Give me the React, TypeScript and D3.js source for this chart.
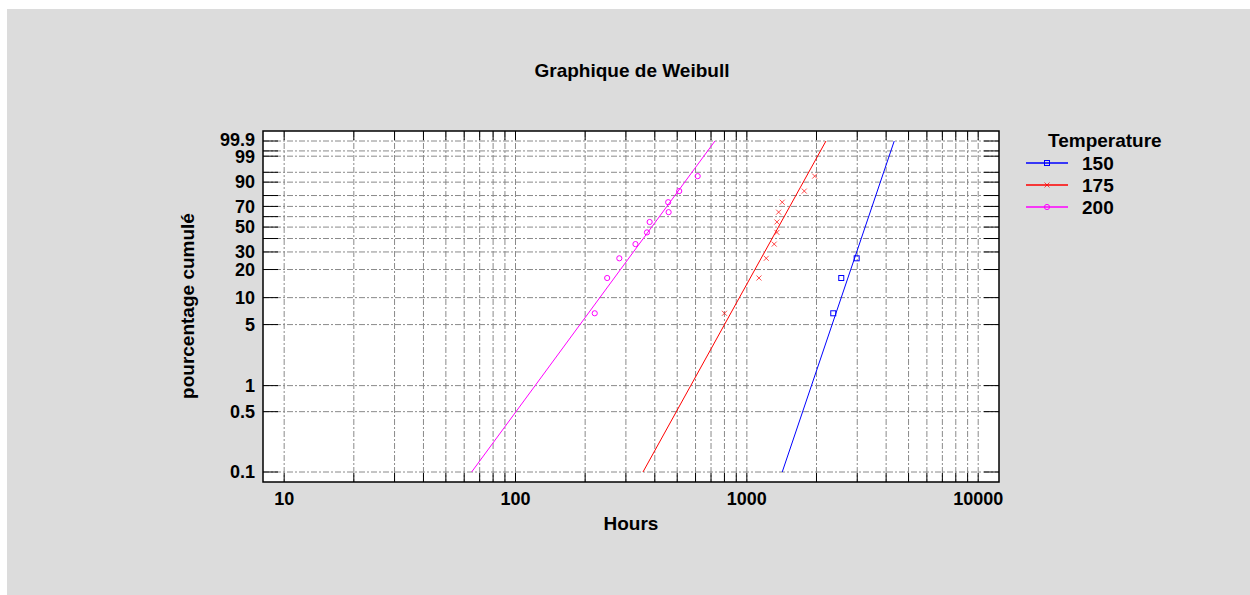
import React from 'react';
import * as d3 from 'd3';

// tick labels
const xTickLabels = [10, 100, 1000, 10000];
const yTickLabels = [0.1, 0.5, 1, 5, 10, 20, 30, 50, 70, 90, 99, 99.9];
const yGridLines = [0.1, 0.5, 1, 5, 10, 20, 30, 40, 50, 60, 70, 80, 90, 95, 99, 99.5, 99.9];

// series
const temperatures = ['150', '175', '200'];
const colors = ['#0000ff', '#ff0000', '#ff00ff'];
const hours150 = [2363, 2559, 2983];
const hours175 = [800, 1128, 1213, 1313, 1349, 1349, 1372, 1422, 1771, 1964];
const hours200 = [220, 249, 281, 330, 370, 380, 459, 457, 510, 613];
const cumulPct = [6.7, 16.3, 26.0, 35.6, 45.2, 54.8, 64.4, 74.0, 83.7, 93.3];

// fitted lines, hours read at 0.1 % and 99.9 %
const fitLow = [1422, 355.6, 64.6];
const fitHigh = [4336, 2198, 728];

const W = 1250;
const H = 595;
const plot = { left: 263, right: 999, top: 131, bottom: 482 };
const font = '"Liberation Sans", Arial, sans-serif';

// weibull probability transform
const weib = (p: number) => Math.log(-Math.log(1 - p / 100));

const x = d3.scaleLog().domain([8.1, 12300]).range([plot.left, plot.right]);
const yw = d3.scaleLinear().domain([weib(0.1), weib(99.9)]).range([472, 141]);
const y = (p: number) => yw(weib(p));

const gridX = x.ticks().filter(t => t >= 10 && t <= 10000);

const Marker = ({ kind, cx, cy, color }: { kind: number; cx: number; cy: number; color: string }) => {
  if (kind === 0)
    return <rect x={cx - 2.5} y={cy - 2.5} width={5} height={5} fill="none" stroke={color} strokeWidth={1} />;
  if (kind === 1)
    return (
      <path
        d={`M${cx - 2.5},${cy - 2.5}L${cx + 2.5},${cy + 2.5}M${cx - 2.5},${cy + 2.5}L${cx + 2.5},${cy - 2.5}`}
        stroke={color}
        strokeOpacity={0.7}
        strokeWidth={1}
      />
    );
  return <circle cx={cx} cy={cy} r={2.6} fill="none" stroke={color} strokeWidth={1} />;
};

export default function App() {
  const series = [hours150, hours175, hours200];
  const line = d3.line<[number, number]>().x(d => x(d[0])).y(d => y(d[1]));

  return (
    <svg width={W} height={H} style={{ position: 'absolute', left: 0, top: 0, fontFamily: font }}>
      <rect x={0} y={0} width={W} height={H} fill="#fff" />
      <rect x={7} y={9} width={W - 7} height={H - 9} fill="#dcdcdc" />

      <text x={632} y={77} textAnchor="middle" fontWeight="bold" fontSize={19}>
        Graphique de Weibull
      </text>

      <rect x={plot.left} y={plot.top} width={plot.right - plot.left} height={plot.bottom - plot.top} fill="#fff" />

      {/* grid */}
      {gridX.map(t => (
        <line key={'gx' + t} x1={x(t)} x2={x(t)} y1={plot.top} y2={plot.bottom}
          stroke="#8a8a8a" strokeDasharray="6,2,2,2" strokeWidth={1} />
      ))}
      {yGridLines.map(p => (
        <line key={'gy' + p} x1={plot.left} x2={plot.right} y1={y(p)} y2={y(p)}
          stroke="#8a8a8a" strokeDasharray="6,2,2,2" strokeWidth={1} />
      ))}

      {/* ticks */}
      {gridX.map(t => (
        <g key={'tx' + t} stroke="#000" strokeWidth={1}>
          <line x1={x(t)} x2={x(t)} y1={plot.bottom} y2={plot.bottom - 9} />
          <line x1={x(t)} x2={x(t)} y1={plot.top} y2={plot.top + 9} />
        </g>
      ))}
      {yGridLines.map(p => (
        <g key={'ty' + p} stroke="#000" strokeWidth={1}>
          <line x1={plot.left} x2={plot.left + 15} y1={y(p)} y2={y(p)} />
          <line x1={plot.right} x2={plot.right - 15} y1={y(p)} y2={y(p)} />
        </g>
      ))}

      {/* fitted lines */}
      {fitLow.map((lo, i) => (
        <path key={'fit' + i} d={line([[lo, 0.1], [fitHigh[i], 99.9]]) || ''} fill="none" stroke={colors[i]} strokeWidth={1} />
      ))}

      {/* points */}
      {series.map((hrs, i) =>
        hrs.map((h, j) => <Marker key={`m${i}-${j}`} kind={i} cx={x(h)} cy={y(cumulPct[j])} color={colors[i]} />)
      )}

      <rect x={plot.left} y={plot.top} width={plot.right - plot.left} height={plot.bottom - plot.top}
        fill="none" stroke="#000" strokeWidth={1.5} />

      {/* tick labels */}
      {xTickLabels.map(t => (
        <text key={'lx' + t} x={x(t)} y={505} textAnchor="middle" fontWeight="bold" fontSize={18}>
          {t}
        </text>
      ))}
      {yTickLabels.map(p => (
        <text key={'ly' + p} x={255} y={y(p) + (p === 99.9 ? -1 : p === 99 ? 1 : 0)} dy="0.35em"
          textAnchor="end" fontWeight="bold" fontSize={18}>
          {p}
        </text>
      ))}

      <text x={631} y={530} textAnchor="middle" fontWeight="bold" fontSize={19}>Hours</text>
      <text transform="translate(194,306) rotate(-90)" textAnchor="middle" fontWeight="bold" fontSize={19}>
        pourcentage cumulé
      </text>

      {/* legend */}
      <text x={1048} y={147} fontWeight="bold" fontSize={19}>Temperature</text>
      {temperatures.map((t, i) => {
        const ly = 163 + i * 22;
        return (
          <g key={'lg' + t}>
            <line x1={1026} x2={1068} y1={ly} y2={ly} stroke={colors[i]} strokeWidth={1.3} />
            <Marker kind={i} cx={1047} cy={ly} color={colors[i]} />
            <text x={1082} y={ly} dy="0.36em" fontWeight="bold" fontSize={19}>{t}</text>
          </g>
        );
      })}
    </svg>
  );
}
